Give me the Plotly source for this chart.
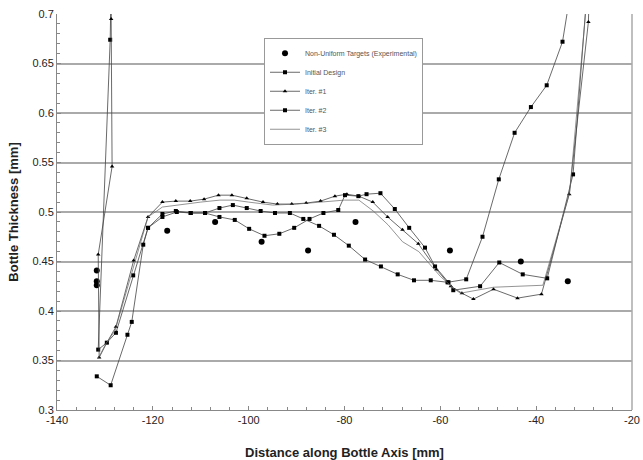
import plotly.graph_objects as go

# ---------------- data ----------------
target_x = [-131.7, -131.7, -131.7, -117.0, -107.0, -97.3, -87.6, -77.7, -58.0, -43.2, -33.4]
target_y = [0.441, 0.430, 0.426, 0.481, 0.490, 0.470, 0.461, 0.490, 0.461, 0.450, 0.430]

init_x = [-128.6, -128.9, -131.4, -129.6, -127.7, -124.1, -121.0, -118.0, -115.2, -112.1,
          -109.1, -106.1, -103.3, -100.4, -97.5, -94.5, -91.4, -88.6, -85.3, -82.2,
          -79.1, -75.7, -72.4, -68.9, -65.5, -62.0, -58.5, -54.6, -51.2, -47.8,
          -44.5, -41.1, -37.8, -34.5, -32.9]
init_y = [0.760, 0.674, 0.361, 0.368, 0.378, 0.436, 0.484, 0.498, 0.501, 0.499,
          0.499, 0.504, 0.507, 0.504, 0.501, 0.499, 0.499, 0.493, 0.486, 0.477,
          0.466, 0.452, 0.445, 0.437, 0.431, 0.431, 0.429, 0.432, 0.475, 0.533,
          0.580, 0.606, 0.628, 0.672, 0.720]

it1_x = [-128.3, -128.7, -128.5, -131.4, -131.2, -129.6, -127.7, -124.0, -121.0, -118.0,
         -115.2, -112.2, -109.3, -106.3, -103.5, -100.4, -97.0, -94.0, -91.0, -88.0,
         -85.0, -82.0, -79.5, -77.0, -74.1, -71.0, -67.9, -64.6, -60.8, -57.8,
         -55.5, -53.1, -48.9, -43.9, -38.9, -33.1, -29.1, -28.7]
it1_y = [0.760, 0.695, 0.546, 0.457, 0.353, 0.368, 0.384, 0.451, 0.495, 0.510,
         0.511, 0.511, 0.513, 0.517, 0.517, 0.514, 0.510, 0.508, 0.508, 0.509,
         0.511, 0.516, 0.518, 0.516, 0.510, 0.495, 0.482, 0.468, 0.442, 0.425,
         0.418, 0.412, 0.422, 0.413, 0.417, 0.518, 0.692, 0.760]

it2_x = [-131.7, -128.8, -125.3, -124.4, -122.0, -121.0, -118.0, -115.0, -112.1, -109.1,
         -106.1, -102.9, -99.9, -96.7, -93.6, -90.5, -87.3, -84.4, -81.3, -79.9,
         -77.1, -75.4, -72.5, -69.5, -66.5, -63.2, -61.1, -58.3, -57.3, -51.7,
         -47.7, -42.8, -37.7, -32.3, -28.8]
it2_y = [0.334, 0.325, 0.376, 0.389, 0.467, 0.484, 0.495, 0.500, 0.499, 0.499,
         0.495, 0.492, 0.483, 0.476, 0.478, 0.484, 0.493, 0.499, 0.502, 0.517,
         0.516, 0.518, 0.519, 0.503, 0.484, 0.464, 0.445, 0.429, 0.421, 0.425,
         0.449, 0.437, 0.433, 0.538, 0.760]

it3_x = [-131.4, -129.8, -127.9, -124.1, -121.0, -118.0, -115.0, -110.0, -106.0, -103.0,
         -100.0, -95.0, -90.0, -85.0, -80.0, -77.0, -74.0, -70.9, -67.9, -64.5,
         -60.0, -57.0, -55.8, -48.9, -43.9, -38.6, -33.0, -28.6]
it3_y = [0.352, 0.367, 0.380, 0.443, 0.495, 0.505, 0.507, 0.510, 0.512, 0.512,
         0.510, 0.507, 0.508, 0.510, 0.512, 0.512, 0.501, 0.487, 0.470, 0.460,
         0.435, 0.422, 0.418, 0.424, 0.425, 0.426, 0.520, 0.760]

legend_names = ["Non-Uniform Targets (Experimental)", "Initial Design", "Iter. #1", "Iter. #2", "Iter. #3"]
x_ticks = [-140, -120, -100, -80, -60, -40, -20]
y_ticks = [0.3, 0.35, 0.4, 0.45, 0.5, 0.55, 0.6, 0.65, 0.7]

# ---------------- figure ----------------
line_style = dict(color="#444444", width=0.8)
fig = go.Figure()
fig.add_trace(go.Scatter(x=target_x, y=target_y, mode="markers", name=legend_names[0],
                         marker=dict(symbol="circle", size=6, color="black")))
fig.add_trace(go.Scatter(x=init_x, y=init_y, mode="lines+markers", name=legend_names[1],
                         line=line_style, marker=dict(symbol="square", size=4, color="black")))
fig.add_trace(go.Scatter(x=it1_x, y=it1_y, mode="lines+markers", name=legend_names[2],
                         line=line_style, marker=dict(symbol="triangle-up", size=4, color="black")))
fig.add_trace(go.Scatter(x=it2_x, y=it2_y, mode="lines+markers", name=legend_names[3],
                         line=line_style, marker=dict(symbol="square", size=4, color="black")))
fig.add_trace(go.Scatter(x=it3_x, y=it3_y, mode="lines", name=legend_names[4],
                         line=dict(color="#666666", width=0.7)))

fig.update_layout(
    width=643, height=460,
    margin=dict(l=57, r=11, t=14, b=50),
    paper_bgcolor="white", plot_bgcolor="white",
    font=dict(family="Liberation Sans, Arial, sans-serif", color="#222222"),
    showlegend=True,
    legend=dict(x=0.36, y=0.94, xanchor="left", yanchor="top",
                bgcolor="white", bordercolor="#999999", borderwidth=1,
                font=dict(size=7, color="#555555"), itemwidth=30,
                traceorder="normal", tracegroupgap=0),
    xaxis=dict(range=[-140, -20], tickvals=x_ticks, ticktext=[str(v) for v in x_ticks],
               automargin=False,
               showgrid=False, zeroline=False, showline=True, linecolor="#888888", linewidth=1,
               mirror=False, ticks="inside", ticklen=4, tickcolor="#888888",
               minor=dict(dtick=4, tick0=-140, ticks="inside", ticklen=3, tickcolor="#888888"),
               tickfont=dict(size=11, color="#222222"),
               title=dict(text="<b>Distance along Bottle Axis [mm]</b>", font=dict(size=13), standoff=22)),
    yaxis=dict(range=[0.3, 0.7], tickvals=y_ticks, ticktext=[f"{v:g}" for v in y_ticks],
               automargin=False,
               showgrid=True, gridcolor="#aaaaaa", gridwidth=1.5, zeroline=False,
               showline=True, linecolor="#888888", linewidth=1, mirror=False,
               ticks="inside", ticklen=4, tickcolor="#888888",
               minor=dict(dtick=0.01, tick0=0.3, ticks="inside", ticklen=3, tickcolor="#888888", showgrid=False),
               tickfont=dict(size=11, color="#222222"),
               title=dict(text="<b>Bottle Thickness [mm]</b>", font=dict(size=13), standoff=10)),
)
# right border of plot area
fig.add_shape(type="line", xref="paper", yref="paper", x0=1, x1=1, y0=0, y1=1,
              line=dict(color="#aaaaaa", width=1.5))

fig.write_html("out.html")
